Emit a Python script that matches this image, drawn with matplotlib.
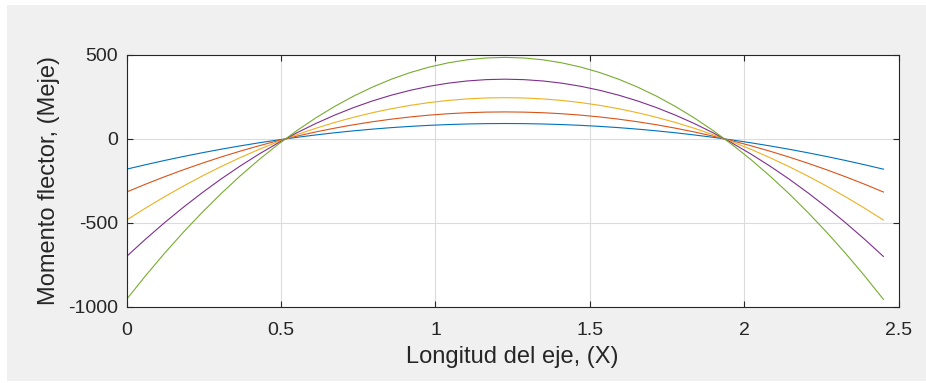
#!/usr/bin/env python3
"""
Momento flector a lo largo del eje (estilo MATLAB)
"""

import matplotlib.pyplot as plt
from matplotlib.patches import Rectangle

plt.rcParams['font.family'] = ['Liberation Sans', 'DejaVu Sans']
plt.rcParams['font.size'] = 14
plt.rcParams['axes.unicode_minus'] = False

# Longitud del eje, (X)
x = [0.0, 0.06125, 0.1225, 0.18375, 0.245, 0.30625, 0.3675, 0.42875, 0.49, 0.55125,
     0.6125, 0.67375, 0.735, 0.79625, 0.8575, 0.91875, 0.98, 1.04125, 1.1025, 1.16375,
     1.225, 1.28625, 1.3475, 1.40875, 1.47, 1.53125, 1.5925, 1.65375, 1.715, 1.77625,
     1.8375, 1.89875, 1.96, 2.02125, 2.0825, 2.14375, 2.205, 2.26625, 2.3275, 2.38875, 2.45]

# Momento flector, (Meje) -- one list per load case
m_blue = [-180.4, -153.9, -128.7, -104.9, -82.5, -61.4, -41.7, -23.3, -6.3, 9.4,
          23.6, 36.6, 48.1, 58.3, 67.2, 74.6, 80.8, 85.5, 88.9, 91.0,
          91.7,
          91.0, 88.9, 85.5, 80.8, 74.6, 67.2, 58.3, 48.1, 36.6,
          23.6, 9.4, -6.3, -23.3, -41.7, -61.4, -82.5, -104.9, -128.7, -153.9, -180.4]
m_red = [-316.5, -269.9, -225.8, -184.0, -144.7, -107.7, -73.1, -40.9, -11.0, 16.4,
         41.5, 64.1, 84.4, 102.3, 117.8, 130.9, 141.7, 150.0, 156.0, 159.6,
         160.8,
         159.6, 156.0, 150.0, 141.7, 130.9, 117.8, 102.3, 84.4, 64.1,
         41.5, 16.4, -11.0, -40.9, -73.1, -107.7, -144.7, -184.0, -225.8, -269.9, -316.5]
m_yellow = [-483.6, -412.5, -345.1, -281.3, -221.1, -164.6, -111.7, -62.5, -16.9, 25.1,
            63.4, 98.0, 129.0, 156.3, 180.0, 200.1, 216.5, 229.3, 238.4, 243.9,
            245.7,
            243.9, 238.4, 229.3, 216.5, 200.1, 180.0, 156.3, 129.0, 98.0,
            63.4, 25.1, -16.9, -62.5, -111.7, -164.6, -221.1, -281.3, -345.1, -412.5, -483.6]
m_purple = [-700.6, -597.6, -499.8, -407.4, -320.3, -238.4, -161.8, -90.5, -24.5, 36.3,
            91.8, 141.9, 186.8, 226.5, 260.8, 289.8, 313.6, 332.1, 345.3, 353.2,
            355.9,
            353.2, 345.3, 332.1, 313.6, 289.8, 260.8, 226.5, 186.8, 141.9,
            91.8, 36.3, -24.5, -90.5, -161.8, -238.4, -320.3, -407.4, -499.8, -597.6, -700.6]
m_green = [-956.3, -815.7, -682.3, -556.1, -437.2, -325.4, -220.8, -123.5, -33.4, 49.6,
           125.3, 193.8, 255.1, 309.1, 356.0, 395.7, 428.1, 453.3, 471.4, 482.2,
           485.8,
           482.2, 471.4, 453.3, 428.1, 395.7, 356.0, 309.1, 255.1, 193.8,
           125.3, 49.6, -33.4, -123.5, -220.8, -325.4, -437.2, -556.1, -682.3, -815.7, -956.3]

series = [m_blue, m_red, m_yellow, m_purple, m_green]
colors = ['#0072BD', '#D95319', '#EDB120', '#7E2F8E', '#77AC30']

fig = plt.figure(figsize=(9.26, 3.83), dpi=100, facecolor='white')
# grey MATLAB figure panel
fig.patches.append(Rectangle((7 / 926, 0.004), 1.0, 0.983, transform=fig.transFigure,
                             facecolor='#F0F0F0', edgecolor='none', zorder=-10))

ax = fig.add_axes([0.1367, 0.1992, 0.834, 0.6572])
ax.set_facecolor('white')

for m, c in zip(series, colors):
    ax.plot(x, m, color=c, linewidth=0.8)

ax.set_xlim(0, 2.5)
ax.set_ylim(-1000, 500)
ax.set_xticks([0, 0.5, 1, 1.5, 2, 2.5])
ax.set_xticklabels(['0', '0.5', '1', '1.5', '2', '2.5'])
ax.set_yticks([-1000, -500, 0, 500])

ax.grid(True, color='#DBDBDB', linewidth=0.8)
ax.set_axisbelow(True)
for s in ax.spines.values():
    s.set_color('#262626')
    s.set_linewidth(0.8)
ax.tick_params(direction='in', top=True, right=True, length=4, width=0.8,
               colors='#262626', labelsize=14)
ax.tick_params(axis='x', pad=11)
ax.tick_params(axis='y', pad=6)

ax.set_xlabel('Longitud del eje, (X)', fontsize=17, color='#262626', labelpad=5)
ax.set_ylabel('Momento flector, (Meje)', fontsize=17, color='#262626', labelpad=6)

fig.savefig('out.png', dpi=100, facecolor='white')
